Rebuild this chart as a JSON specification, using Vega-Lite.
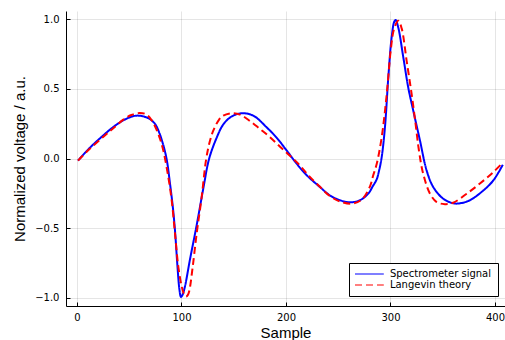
{
  "$schema": "https://vega.github.io/schema/vega-lite/v6.json",
  "width": 439,
  "height": 295,
  "autosize": {"type": "none"},
  "padding": {"left": 66, "top": 11, "right": 0, "bottom": 34},
  "background": "white",
  "config": {
    "view": {"stroke": null},
    "axis": {
      "domainColor": "#000000",
      "domainWidth": 1,
      "tickColor": "#000000",
      "tickSize": -4,
      "tickWidth": 1,
      "grid": true,
      "gridColor": "#000000",
      "gridOpacity": 0.1,
      "gridWidth": 1,
      "labelFont": "DejaVu Sans",
      "labelFontSize": 10,
      "labelColor": "#000000",
      "labelFlush": false,
      "titleFont": "Liberation Sans",
      "titleFontSize": 15,
      "titleFontWeight": "normal",
      "titleColor": "#000000"
    },
    "legend": {
      "orient": "none",
      "legendX": 283,
      "legendY": 252,
      "strokeColor": "#000000",
      "fillColor": "#ffffff",
      "padding": 6,
      "rowPadding": 1,
      "symbolType": "M-3.6,0H3.6",
      "symbolSize": 64,
      "symbolStrokeWidth": 1.2,
      "symbolOffset": 9.4,
      "labelOffset": 15.5,
      "labelFont": "DejaVu Sans",
      "labelFontSize": 10,
      "labelColor": "#000000",
      "labelLimit": 300
    }
  },
  "data": {
    "values": [
      {"series": "Spectrometer signal", "sample": 1, "value": -0.015},
      {"series": "Spectrometer signal", "sample": 12, "value": 0.075},
      {"series": "Spectrometer signal", "sample": 25, "value": 0.165},
      {"series": "Spectrometer signal", "sample": 35, "value": 0.228},
      {"series": "Spectrometer signal", "sample": 45, "value": 0.277},
      {"series": "Spectrometer signal", "sample": 52, "value": 0.3},
      {"series": "Spectrometer signal", "sample": 57, "value": 0.308},
      {"series": "Spectrometer signal", "sample": 64, "value": 0.302},
      {"series": "Spectrometer signal", "sample": 70, "value": 0.282},
      {"series": "Spectrometer signal", "sample": 75, "value": 0.245},
      {"series": "Spectrometer signal", "sample": 79, "value": 0.18},
      {"series": "Spectrometer signal", "sample": 83, "value": 0.085},
      {"series": "Spectrometer signal", "sample": 86, "value": -0.014},
      {"series": "Spectrometer signal", "sample": 89, "value": -0.18},
      {"series": "Spectrometer signal", "sample": 92, "value": -0.37},
      {"series": "Spectrometer signal", "sample": 94, "value": -0.54},
      {"series": "Spectrometer signal", "sample": 96, "value": -0.76},
      {"series": "Spectrometer signal", "sample": 98, "value": -0.94},
      {"series": "Spectrometer signal", "sample": 99.5, "value": -0.995},
      {"series": "Spectrometer signal", "sample": 101, "value": -0.98},
      {"series": "Spectrometer signal", "sample": 103.3, "value": -0.92},
      {"series": "Spectrometer signal", "sample": 108, "value": -0.73},
      {"series": "Spectrometer signal", "sample": 114.5, "value": -0.48},
      {"series": "Spectrometer signal", "sample": 121, "value": -0.21},
      {"series": "Spectrometer signal", "sample": 126.5, "value": 0.0},
      {"series": "Spectrometer signal", "sample": 133.7, "value": 0.15},
      {"series": "Spectrometer signal", "sample": 140, "value": 0.245},
      {"series": "Spectrometer signal", "sample": 148, "value": 0.302},
      {"series": "Spectrometer signal", "sample": 157.6, "value": 0.325},
      {"series": "Spectrometer signal", "sample": 168.7, "value": 0.308},
      {"series": "Spectrometer signal", "sample": 181.5, "value": 0.224},
      {"series": "Spectrometer signal", "sample": 191, "value": 0.15},
      {"series": "Spectrometer signal", "sample": 200.7, "value": 0.057},
      {"series": "Spectrometer signal", "sample": 210, "value": -0.035},
      {"series": "Spectrometer signal", "sample": 219.8, "value": -0.12},
      {"series": "Spectrometer signal", "sample": 232.5, "value": -0.205},
      {"series": "Spectrometer signal", "sample": 242, "value": -0.265},
      {"series": "Spectrometer signal", "sample": 251.7, "value": -0.3},
      {"series": "Spectrometer signal", "sample": 261.2, "value": -0.315},
      {"series": "Spectrometer signal", "sample": 270.8, "value": -0.3},
      {"series": "Spectrometer signal", "sample": 279, "value": -0.25},
      {"series": "Spectrometer signal", "sample": 283, "value": -0.2},
      {"series": "Spectrometer signal", "sample": 286.8, "value": -0.15},
      {"series": "Spectrometer signal", "sample": 289, "value": -0.09},
      {"series": "Spectrometer signal", "sample": 291.6, "value": 0.01},
      {"series": "Spectrometer signal", "sample": 294.7, "value": 0.224},
      {"series": "Spectrometer signal", "sample": 297.9, "value": 0.58},
      {"series": "Spectrometer signal", "sample": 301.1, "value": 0.87},
      {"series": "Spectrometer signal", "sample": 303.7, "value": 0.985},
      {"series": "Spectrometer signal", "sample": 305, "value": 0.995},
      {"series": "Spectrometer signal", "sample": 307.5, "value": 0.94},
      {"series": "Spectrometer signal", "sample": 312.3, "value": 0.726},
      {"series": "Spectrometer signal", "sample": 317, "value": 0.51},
      {"series": "Spectrometer signal", "sample": 321.8, "value": 0.344},
      {"series": "Spectrometer signal", "sample": 328.2, "value": 0.13},
      {"series": "Spectrometer signal", "sample": 334.6, "value": -0.086},
      {"series": "Spectrometer signal", "sample": 341, "value": -0.206},
      {"series": "Spectrometer signal", "sample": 350.5, "value": -0.289},
      {"series": "Spectrometer signal", "sample": 360, "value": -0.322},
      {"series": "Spectrometer signal", "sample": 366.5, "value": -0.322},
      {"series": "Spectrometer signal", "sample": 376, "value": -0.3},
      {"series": "Spectrometer signal", "sample": 388.8, "value": -0.23},
      {"series": "Spectrometer signal", "sample": 398.4, "value": -0.158},
      {"series": "Spectrometer signal", "sample": 407.5, "value": -0.045},
      {"series": "Langevin theory", "sample": 1, "value": -0.015},
      {"series": "Langevin theory", "sample": 12, "value": 0.068},
      {"series": "Langevin theory", "sample": 25, "value": 0.155},
      {"series": "Langevin theory", "sample": 35, "value": 0.22},
      {"series": "Langevin theory", "sample": 45, "value": 0.283},
      {"series": "Langevin theory", "sample": 52, "value": 0.313},
      {"series": "Langevin theory", "sample": 60, "value": 0.327},
      {"series": "Langevin theory", "sample": 66, "value": 0.318},
      {"series": "Langevin theory", "sample": 71, "value": 0.28},
      {"series": "Langevin theory", "sample": 76, "value": 0.21},
      {"series": "Langevin theory", "sample": 79.5, "value": 0.14},
      {"series": "Langevin theory", "sample": 82.6, "value": 0.057},
      {"series": "Langevin theory", "sample": 87.4, "value": -0.134},
      {"series": "Langevin theory", "sample": 90.6, "value": -0.3},
      {"series": "Langevin theory", "sample": 93.8, "value": -0.54},
      {"series": "Langevin theory", "sample": 97, "value": -0.78},
      {"series": "Langevin theory", "sample": 100.2, "value": -0.92},
      {"series": "Langevin theory", "sample": 102.5, "value": -0.975},
      {"series": "Langevin theory", "sample": 104.3, "value": -0.992},
      {"series": "Langevin theory", "sample": 106, "value": -0.982},
      {"series": "Langevin theory", "sample": 107.5, "value": -0.95},
      {"series": "Langevin theory", "sample": 110.7, "value": -0.78},
      {"series": "Langevin theory", "sample": 114.5, "value": -0.54},
      {"series": "Langevin theory", "sample": 119.3, "value": -0.277},
      {"series": "Langevin theory", "sample": 123.5, "value": -0.01},
      {"series": "Langevin theory", "sample": 127, "value": 0.12},
      {"series": "Langevin theory", "sample": 130.4, "value": 0.2},
      {"series": "Langevin theory", "sample": 136, "value": 0.28},
      {"series": "Langevin theory", "sample": 140, "value": 0.308},
      {"series": "Langevin theory", "sample": 148, "value": 0.325},
      {"series": "Langevin theory", "sample": 156, "value": 0.315},
      {"series": "Langevin theory", "sample": 165.5, "value": 0.27},
      {"series": "Langevin theory", "sample": 175, "value": 0.213},
      {"series": "Langevin theory", "sample": 184.7, "value": 0.153},
      {"series": "Langevin theory", "sample": 194.3, "value": 0.085},
      {"series": "Langevin theory", "sample": 203.8, "value": 0.02},
      {"series": "Langevin theory", "sample": 213.4, "value": -0.05},
      {"series": "Langevin theory", "sample": 221.3, "value": -0.12},
      {"series": "Langevin theory", "sample": 232, "value": -0.2},
      {"series": "Langevin theory", "sample": 242, "value": -0.27},
      {"series": "Langevin theory", "sample": 252, "value": -0.31},
      {"series": "Langevin theory", "sample": 262.9, "value": -0.325},
      {"series": "Langevin theory", "sample": 272.4, "value": -0.296},
      {"series": "Langevin theory", "sample": 280.4, "value": -0.2},
      {"series": "Langevin theory", "sample": 283.5, "value": -0.12},
      {"series": "Langevin theory", "sample": 286.8, "value": -0.04},
      {"series": "Langevin theory", "sample": 291.6, "value": 0.153},
      {"series": "Langevin theory", "sample": 296.4, "value": 0.46},
      {"series": "Langevin theory", "sample": 300.2, "value": 0.774},
      {"series": "Langevin theory", "sample": 303.4, "value": 0.93},
      {"series": "Langevin theory", "sample": 307.5, "value": 0.99},
      {"series": "Langevin theory", "sample": 310.7, "value": 0.935},
      {"series": "Langevin theory", "sample": 315.5, "value": 0.7},
      {"series": "Langevin theory", "sample": 320.3, "value": 0.46},
      {"series": "Langevin theory", "sample": 324, "value": 0.25},
      {"series": "Langevin theory", "sample": 327, "value": 0.07},
      {"series": "Langevin theory", "sample": 331, "value": -0.1},
      {"series": "Langevin theory", "sample": 337.8, "value": -0.253},
      {"series": "Langevin theory", "sample": 344.2, "value": -0.313},
      {"series": "Langevin theory", "sample": 352.2, "value": -0.328},
      {"series": "Langevin theory", "sample": 360, "value": -0.318},
      {"series": "Langevin theory", "sample": 372.9, "value": -0.253},
      {"series": "Langevin theory", "sample": 385.6, "value": -0.18},
      {"series": "Langevin theory", "sample": 398.4, "value": -0.098},
      {"series": "Langevin theory", "sample": 407.5, "value": -0.03}
    ]
  },
  "encoding": {
    "x": {
      "field": "sample",
      "type": "quantitative",
      "scale": {"domain": [-10.53, 409.6], "nice": false, "zero": false},
      "axis": {
        "values": [0, 100, 200, 300, 400],
        "format": "d",
        "title": "Sample",
        "labelPadding": 10,
        "titleY": 31,
        "titleBaseline": "alphabetic"
      }
    },
    "y": {
      "field": "value",
      "type": "quantitative",
      "scale": {"domain": [-1.06, 1.06], "nice": false, "zero": false},
      "axis": {
        "values": [-1, -0.5, 0, 0.5, 1],
        "format": ".1f",
        "title": "Normalized voltage / a.u.",
        "labelPadding": 11,
        "titleX": -42,
        "titleBaseline": "alphabetic"
      }
    },
    "color": {
      "field": "series",
      "type": "nominal",
      "scale": {"domain": ["Spectrometer signal", "Langevin theory"], "range": ["#0000ff", "#ff0000"]},
      "legend": {"title": null}
    },
    "strokeDash": {
      "field": "series",
      "type": "nominal",
      "scale": {"domain": ["Spectrometer signal", "Langevin theory"], "range": [[1, 0], [7, 4]]},
      "legend": {"title": null}
    }
  },
  "layer": [
    {
      "transform": [{"filter": "datum.series === 'Spectrometer signal'"}],
      "mark": {"type": "line", "interpolate": "catmull-rom", "strokeWidth": 2}
    },
    {
      "transform": [{"filter": "datum.series === 'Langevin theory'"}],
      "mark": {"type": "line", "interpolate": "catmull-rom", "strokeWidth": 2}
    }
  ]
}
